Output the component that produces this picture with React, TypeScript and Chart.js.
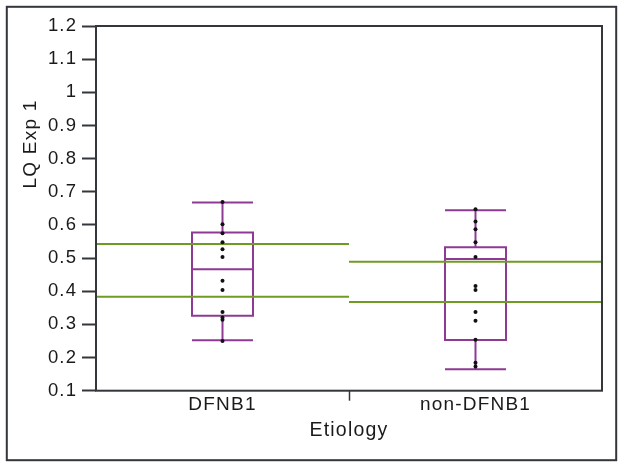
import { useEffect, useRef } from 'react';
import { Chart, registerables } from 'chart.js';

Chart.register(...registerables);

// ---- data ----
const categories = ['DFNB1', 'non-DFNB1'];
const whiskerLow = [0.252, 0.165];
const quartile1 = [0.326, 0.253];
const medians = [0.466, 0.497];
const quartile3 = [0.577, 0.533];
const whiskerHigh = [0.668, 0.644];
const upperGreenLine = [0.5425, 0.489];
const lowerGreenLine = [0.3836, 0.3676];
const dfnb1Points = [0.669, 0.602, 0.575, 0.548, 0.527, 0.503, 0.432, 0.404, 0.337, 0.321, 0.314, 0.25];
const nonDfnb1Points = [0.647, 0.61, 0.587, 0.548, 0.503, 0.416, 0.404, 0.337, 0.311, 0.254, 0.184, 0.173];
const yMin = 0.1;
const yMax = 1.2;
const yStep = 0.1;
const xTitle = 'Etiology';
const yTitle = 'LQ Exp 1';

const PURPLE = '#8e3a94';
const GREEN = '#6f9b25';
const INK = '#1a1a1a';
const FRAME = '#33363a';
const FONT = '"Liberation Sans", Arial, sans-serif';
const SPACING = '1.2px';

const framePlugin = {
  id: 'frameAndBoxes',
  beforeDraw(chart: any) {
    const ctx = chart.ctx;
    ctx.save();
    ctx.fillStyle = '#ffffff';
    ctx.fillRect(0, 0, chart.width, chart.height);
    ctx.strokeStyle = FRAME;
    ctx.lineWidth = 2;
    ctx.strokeRect(6.8, 6.8, 609.4, 453.4);
    ctx.restore();
    ctx.letterSpacing = SPACING;
  },
  beforeDatasetsDraw(chart: any) {
    const { ctx, scales } = chart;
    const x = scales.x;
    const y = scales.y;
    const hw = 30.5;
    ctx.save();
    ctx.lineWidth = 2;
    ctx.strokeStyle = PURPLE;
    for (let i = 0; i < categories.length; i++) {
      const cx = x.getPixelForValue(i);
      const yq1 = y.getPixelForValue(quartile1[i]);
      const yq3 = y.getPixelForValue(quartile3[i]);
      const ymed = y.getPixelForValue(medians[i]);
      const ylo = y.getPixelForValue(whiskerLow[i]);
      const yhi = y.getPixelForValue(whiskerHigh[i]);
      ctx.beginPath();
      ctx.rect(cx - hw, yq3, hw * 2, yq1 - yq3);
      ctx.moveTo(cx - hw, ymed);
      ctx.lineTo(cx + hw, ymed);
      ctx.moveTo(cx, yq3);
      ctx.lineTo(cx, yhi);
      ctx.moveTo(cx - hw, yhi);
      ctx.lineTo(cx + hw, yhi);
      ctx.moveTo(cx, yq1);
      ctx.lineTo(cx, ylo);
      ctx.moveTo(cx - hw, ylo);
      ctx.lineTo(cx + hw, ylo);
      ctx.stroke();
    }
    ctx.strokeStyle = GREEN;
    for (let i = 0; i < categories.length; i++) {
      const x0 = x.getPixelForValue(i - 0.5);
      const x1 = x.getPixelForValue(i + 0.5);
      for (const v of [upperGreenLine[i], lowerGreenLine[i]]) {
        const py = y.getPixelForValue(v);
        ctx.beginPath();
        ctx.moveTo(x0, py);
        ctx.lineTo(x1, py);
        ctx.stroke();
      }
    }
    ctx.restore();
  },
  afterDraw(chart: any) {
    const { ctx, chartArea } = chart;
    ctx.save();
    ctx.strokeStyle = FRAME;
    ctx.lineWidth = 2;
    ctx.strokeRect(chartArea.left, chartArea.top, chartArea.right - chartArea.left, chartArea.bottom - chartArea.top);
    ctx.fillStyle = INK;
    ctx.font = '19px ' + FONT;
    ctx.letterSpacing = SPACING;
    ctx.textAlign = 'center';
    ctx.textBaseline = 'alphabetic';
    ctx.translate(35.5, 144);
    ctx.rotate(-Math.PI / 2);
    ctx.fillText(yTitle, 0, 0);
    ctx.restore();
  },
};

export default function App() {
  const ref = useRef<HTMLCanvasElement | null>(null);
  useEffect(() => {
    if (!ref.current) return;
    const pointStyle = {
      backgroundColor: '#111',
      borderColor: '#111',
      pointRadius: 2,
      borderWidth: 0,
    };
    const chart = new Chart(ref.current, {
      type: 'scatter',
      data: {
        labels: categories,
        datasets: [
          { data: dfnb1Points.map((v) => ({ x: categories[0], y: v })), ...pointStyle },
          { data: nonDfnb1Points.map((v) => ({ x: categories[1], y: v })), ...pointStyle },
        ],
      } as any,
      options: {
        responsive: false,
        animation: false,
        layout: { padding: { left: 0, top: 26, right: 22, bottom: 0 } },
        plugins: { legend: { display: false }, tooltip: { enabled: false } },
        scales: {
          x: {
            type: 'category',
            labels: categories,
            offset: true,
            border: { display: false },
            grid: {
              offset: true,
              drawOnChartArea: false,
              drawTicks: true,
              tickLength: 10,
              tickWidth: 1.5,
              tickColor: (c: any) => (c.index === 1 ? FRAME : 'rgba(0,0,0,0)'),
            },
            ticks: { color: INK, font: { family: FONT, size: 19 }, padding: -7, maxRotation: 0 },
            title: {
              display: true,
              text: xTitle,
              color: INK,
              font: { family: FONT, size: 19.5 },
              padding: { top: 0, bottom: 25.3 },
            },
            afterFit: (s: any) => {
              s.height = 77.3;
            },
          },
          y: {
            type: 'linear',
            min: yMin,
            max: yMax,
            border: { display: false },
            grid: {
              drawOnChartArea: false,
              drawTicks: true,
              tickLength: 14,
              tickWidth: 2,
              tickColor: FRAME,
            },
            ticks: {
              stepSize: yStep,
              color: INK,
              font: { family: FONT, size: 18.5 },
              padding: 4.8,
              callback: (v: any) => String(Math.round(Number(v) * 10) / 10),
            },
            afterFit: (s: any) => {
              s.width = 96;
            },
          },
        },
      } as any,
      plugins: [framePlugin],
    });
    return () => chart.destroy();
  }, []);
  return (
    <canvas
      ref={ref}
      width={624}
      height={468}
      style={{ position: 'fixed', left: 0, top: 0, width: 624, height: 468, display: 'block' }}
    />
  );
}
